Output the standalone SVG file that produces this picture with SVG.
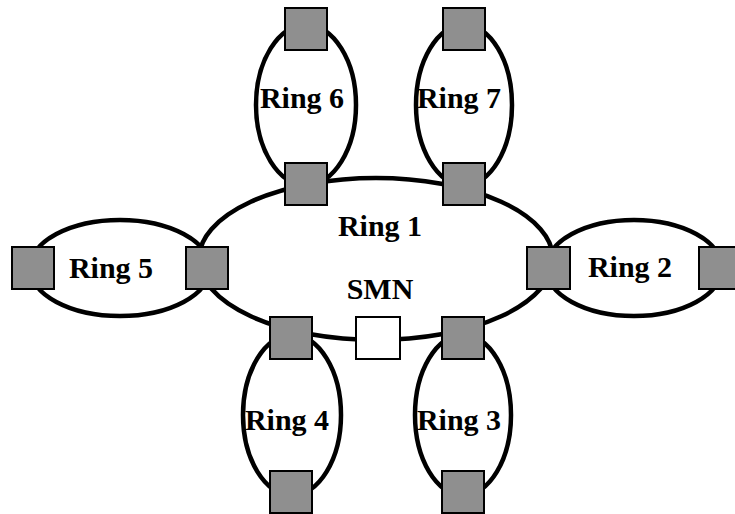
<svg xmlns="http://www.w3.org/2000/svg" width="735" height="514" viewBox="0 0 735 514">
  <style>
    .ring { fill: none; stroke: #000; stroke-width: 4.5; }
    .node { fill: #8f8f8f; stroke: #000; stroke-width: 2; }
    .smn { fill: #fff; stroke: #000; stroke-width: 2; }
    .label { font-family: "Liberation Serif", "Times New Roman", serif; font-weight: bold; font-size: 30px; text-anchor: middle; fill: #000; }
  </style>
  <rect width="735" height="514" fill="#fff"/>

  <!-- ring links -->
  <g id="connectors">
    <ellipse id="ring1" class="ring" cx="376" cy="259" rx="177" ry="81"/>
    <ellipse id="ring2" class="ring" cx="634" cy="268" rx="88" ry="48"/>
    <ellipse id="ring3" class="ring" cx="463" cy="415" rx="48" ry="80"/>
    <ellipse id="ring4" class="ring" cx="292" cy="415" rx="49" ry="80"/>
    <ellipse id="ring5" class="ring" cx="120" cy="268" rx="90" ry="48"/>
    <ellipse id="ring6" class="ring" cx="306" cy="105" rx="50" ry="80"/>
    <ellipse id="ring7" class="ring" cx="464" cy="105" rx="48" ry="80"/>
  </g>

  <!-- ring labels -->
  <g id="labels">
    <text class="label" x="380" y="236">Ring 1</text>
    <text class="label" x="630" y="277">Ring 2</text>
    <text class="label" x="459" y="430">Ring 3</text>
    <text class="label" x="287" y="430">Ring 4</text>
    <text class="label" x="111" y="278">Ring 5</text>
    <text class="label" x="302" y="108">Ring 6</text>
    <text class="label" x="459" y="108">Ring 7</text>
    <text class="label" x="380" y="299">SMN</text>
  </g>

  <!-- switching nodes -->
  <g id="n6top"><rect class="node" x="285" y="8" width="42" height="42"/></g>
  <g id="n6bot"><rect class="node" x="285" y="163" width="42" height="42"/></g>
  <g id="n7top"><rect class="node" x="443" y="8" width="42" height="42"/></g>
  <g id="n7bot"><rect class="node" x="443" y="163" width="42" height="42"/></g>
  <g id="n5left"><rect class="node" x="12" y="247" width="42" height="42"/></g>
  <g id="n5right"><rect class="node" x="186" y="247" width="42" height="42"/></g>
  <g id="n2left"><rect class="node" x="527" y="247" width="43" height="42"/></g>
  <g id="n2right"><rect class="node" x="699" y="247" width="42" height="42"/></g>
  <g id="n4top"><rect class="node" x="270" y="317" width="42" height="42"/></g>
  <g id="n3top"><rect class="node" x="442" y="317" width="42" height="42"/></g>
  <g id="n4bot"><rect class="node" x="270" y="471" width="42" height="42"/></g>
  <g id="n3bot"><rect class="node" x="442" y="471" width="42" height="42"/></g>
  <g id="smn"><rect class="smn" x="356" y="317" width="44" height="42"/></g>
</svg>
